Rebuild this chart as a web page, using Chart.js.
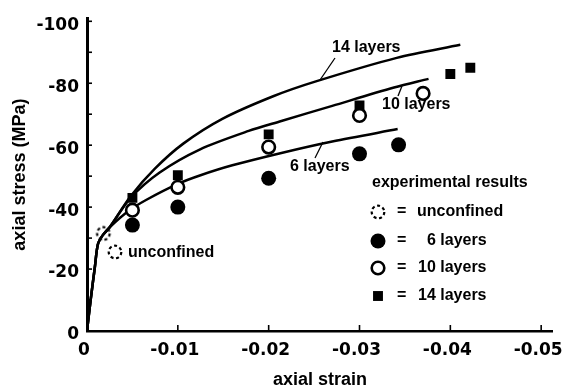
<!DOCTYPE html>
<html>
<head>
<meta charset="utf-8">
<script src="https://cdn.jsdelivr.net/npm/chart.js@4.4.1/dist/chart.umd.min.js"></script>
<style>
  html, body { margin: 0; padding: 0; background: #fff; }
</style>
</head>
<body>
<canvas id="chart" width="575" height="390"></canvas>
<script>
// tick values and labels
const xTickValues = [0, -0.01, -0.02, -0.03, -0.04, -0.05];
const xTickLabels = ['0', '-0.01', '-0.02', '-0.03', '-0.04', '-0.05'];
const yTickValues = [0, -20, -40, -60, -80, -100];
const yTickLabels = ['0', '-20', '-40', '-60', '-80', '-100'];
const xTickMarks = [-0.01, -0.02, -0.03, -0.04, -0.05];
const yTickMarks = [-10, -20, -30, -40, -50, -60, -70, -80, -90, -100];

// experimental results (strain, stress MPa)
const unconfinedStrain = [-0.0018];
const unconfinedStress = [-31.5];
const sixStrain = [-0.005, -0.01, -0.02, -0.03, -0.0343];
const sixStress = [-34.2, -40, -49.3, -57.2, -60.1];
const tenStrain = [-0.005, -0.01, -0.02, -0.03, -0.037];
const tenStress = [-39, -46.4, -59.4, -69.6, -76.7];
const fourteenStrain = [-0.005, -0.01, -0.02, -0.03, -0.04, -0.0422];
const fourteenStress = [-43, -50.3, -63.5, -72.8, -83, -85];

// model curves
const curve6Strain = [0, -0.0004, -0.00086, -0.0012, -0.0017, -0.0025, -0.0046, -0.0065, -0.01, -0.0125, -0.016, -0.0214, -0.027, -0.0342];
const curve6Stress = [0, -10, -20.5, -28, -30.8, -33.5, -38.8, -42.3, -47.5, -50.3, -53.5, -57.5, -61.2, -65.2];
const curve10Strain = [0, -0.0004, -0.00086, -0.0012, -0.0017, -0.0025, -0.0048, -0.008, -0.0124, -0.0178, -0.0214, -0.027, -0.0338, -0.0376];
const curve10Stress = [0, -10, -20.5, -28, -30.8, -33.5, -43, -51.2, -58.6, -64.6, -67.8, -72.7, -78.6, -81.4];
const curve14Strain = [0, -0.0004, -0.00086, -0.0012, -0.0017, -0.0025, -0.0048, -0.0075, -0.0106, -0.0149, -0.0205, -0.0252, -0.0341, -0.0411];
const curve14Stress = [0, -10, -20.5, -28, -30.8, -33.5, -43.5, -52.5, -60.5, -68.5, -75.8, -80.6, -88.2, -92.4];

const pts = (xs, ys) => xs.map((x, i) => ({ x: x, y: ys[i] }));

// dashed circle marker
function dashedCircle() {
  const c = document.createElement('canvas');
  c.width = 18; c.height = 18;
  const g = c.getContext('2d');
  g.strokeStyle = '#000';
  g.lineWidth = 2.2;
  g.setLineDash([3, 2.6]);
  g.beginPath();
  g.arc(9, 9, 6.3, 0, Math.PI * 2);
  g.stroke();
  return c;
}
const dashMark = dashedCircle();

const boldFont = '"Liberation Sans", Arial, sans-serif';

function curveSet(label, xs, ys) {
  return {
    label: label, data: pts(xs, ys), showLine: true, pointRadius: 0,
    borderColor: '#000', borderWidth: 2.5, tension: 0.3,
    order: 10
  };
}

const datasets = [
  { label: 'unconfined', data: pts(unconfinedStrain, unconfinedStress), pointStyle: dashMark, pointRadius: 8, order: 1 },
  { label: '6 layers', data: pts(sixStrain, sixStress), pointStyle: 'circle', pointRadius: 7.5,
    backgroundColor: '#000', borderColor: '#000', borderWidth: 0, order: 3 },
  { label: '10 layers', data: pts(tenStrain, tenStress), pointStyle: 'circle', pointRadius: 6.3,
    backgroundColor: '#fff', borderColor: '#000', borderWidth: 2.6, order: 2 },
  { label: '14 layers', data: pts(fourteenStrain, fourteenStress), pointStyle: 'rect', pointRadius: 7,
    backgroundColor: '#000', borderColor: '#000', borderWidth: 0, order: 4 },
  curveSet('6 layers model', curve6Strain, curve6Stress),
  curveSet('10 layers model', curve10Strain, curve10Stress),
  curveSet('14 layers model', curve14Strain, curve14Stress)
];

// inward tick marks, labels and legend
const decorations = {
  id: 'decorations',
  afterDraw(chart) {
    const ctx = chart.ctx;
    const xs = chart.scales.x, ys = chart.scales.y;
    ctx.save();
    ctx.strokeStyle = '#000';
    ctx.lineWidth = 1.6;
    xTickMarks.forEach(v => {
      const px = xs.getPixelForValue(v);
      ctx.beginPath(); ctx.moveTo(px, ys.bottom); ctx.lineTo(px, ys.bottom - 6); ctx.stroke();
    });
    yTickMarks.forEach(v => {
      const py = ys.getPixelForValue(v);
      ctx.beginPath(); ctx.moveTo(xs.left, py); ctx.lineTo(xs.left + 5, py); ctx.stroke();
    });

    ctx.fillStyle = '#000';
    ctx.font = 'bold 16px ' + boldFont;
    ctx.textBaseline = 'middle';
    ctx.textAlign = 'left';

    // curve labels with leader lines
    ctx.lineWidth = 1.3;
    ctx.fillText('14 layers', 332, 48);
    ctx.beginPath(); ctx.moveTo(320, 80); ctx.lineTo(335, 58); ctx.stroke();
    ctx.fillText('10 layers', 382, 105);
    ctx.beginPath(); ctx.moveTo(402, 86); ctx.lineTo(398, 96); ctx.stroke();
    ctx.fillText('6 layers', 290, 167);
    ctx.beginPath(); ctx.moveTo(323, 142); ctx.lineTo(315, 158); ctx.stroke();

    // unconfined annotation
    ctx.drawImage(dashMark, 115 - 9, 252 - 9);
    ctx.fillText('unconfined', 128, 253);

    // legend
    ctx.fillText('experimental results', 372, 183);
    const rows = [
      { y: 212, lx: 417 },
      { y: 241, lx: 427 },
      { y: 268, lx: 418 },
      { y: 296, lx: 418 }
    ];
    rows.forEach((r, i) => {
      const ds = chart.data.datasets[i];
      ctx.fillStyle = ds.backgroundColor || '#000';
      ctx.strokeStyle = ds.borderColor || '#000';
      ctx.lineWidth = ds.borderWidth || 0;
      Chart.helpers.drawPoint(ctx, { pointStyle: ds.pointStyle, radius: ds.pointRadius, rotation: 0, borderWidth: ds.borderWidth || 0 }, 378, r.y);
      ctx.fillStyle = '#000';
      ctx.fillText('=', 397, r.y);
      ctx.fillText(ds.label, r.lx, r.y);
    });
    ctx.restore();
  }
};

new Chart(document.getElementById('chart'), {
  type: 'scatter',
  data: { datasets: datasets },
  options: {
    responsive: false,
    animation: false,
    devicePixelRatio: 1,
    layout: { padding: { top: 15, right: 13, left: 0, bottom: 0 } },
    plugins: { legend: { display: false }, tooltip: { enabled: false } },
    scales: {
      x: {
        type: 'linear', min: -0.0513, max: 0, reverse: true,
        afterBuildTicks: s => { s.ticks = xTickValues.map(v => ({ value: v })); },
        afterFit: s => { s.height = 59; },
        grid: { display: false, drawTicks: false },
        border: { display: true, color: '#000', width: 2.6 },
        ticks: {
          color: '#000', padding: 9, labelOffset: -3, maxRotation: 0, autoSkip: false,
          font: { family: '"DejaVu Sans"', weight: 'bold', size: 17 },
          callback: (v, i) => xTickLabels[i]
        },
        title: {
          display: true, text: 'axial strain', color: '#000',
          font: { family: boldFont, weight: 'bold', size: 18, lineHeight: 1.1 },
          padding: { top: 0, bottom: 0 }
        }
      },
      y: {
        type: 'linear', min: -101, max: 0, reverse: true,
        afterBuildTicks: s => { s.ticks = yTickValues.map(v => ({ value: v })); },
        afterFit: s => { s.width = 87; },
        grid: { display: false, drawTicks: false },
        border: { display: true, color: '#000', width: 3 },
        ticks: {
          color: '#000', padding: 8, labelOffset: 4, autoSkip: false,
          font: { family: '"DejaVu Sans"', weight: 'bold', size: 17 },
          callback: (v, i) => yTickLabels[i]
        },
        title: {
          display: true, text: 'axial stress (MPa)', color: '#000',
          font: { family: boldFont, weight: 'bold', size: 18 },
          padding: { top: 9, bottom: 0 }
        }
      }
    }
  },
  plugins: [decorations]
});
</script>
</body>
</html>
